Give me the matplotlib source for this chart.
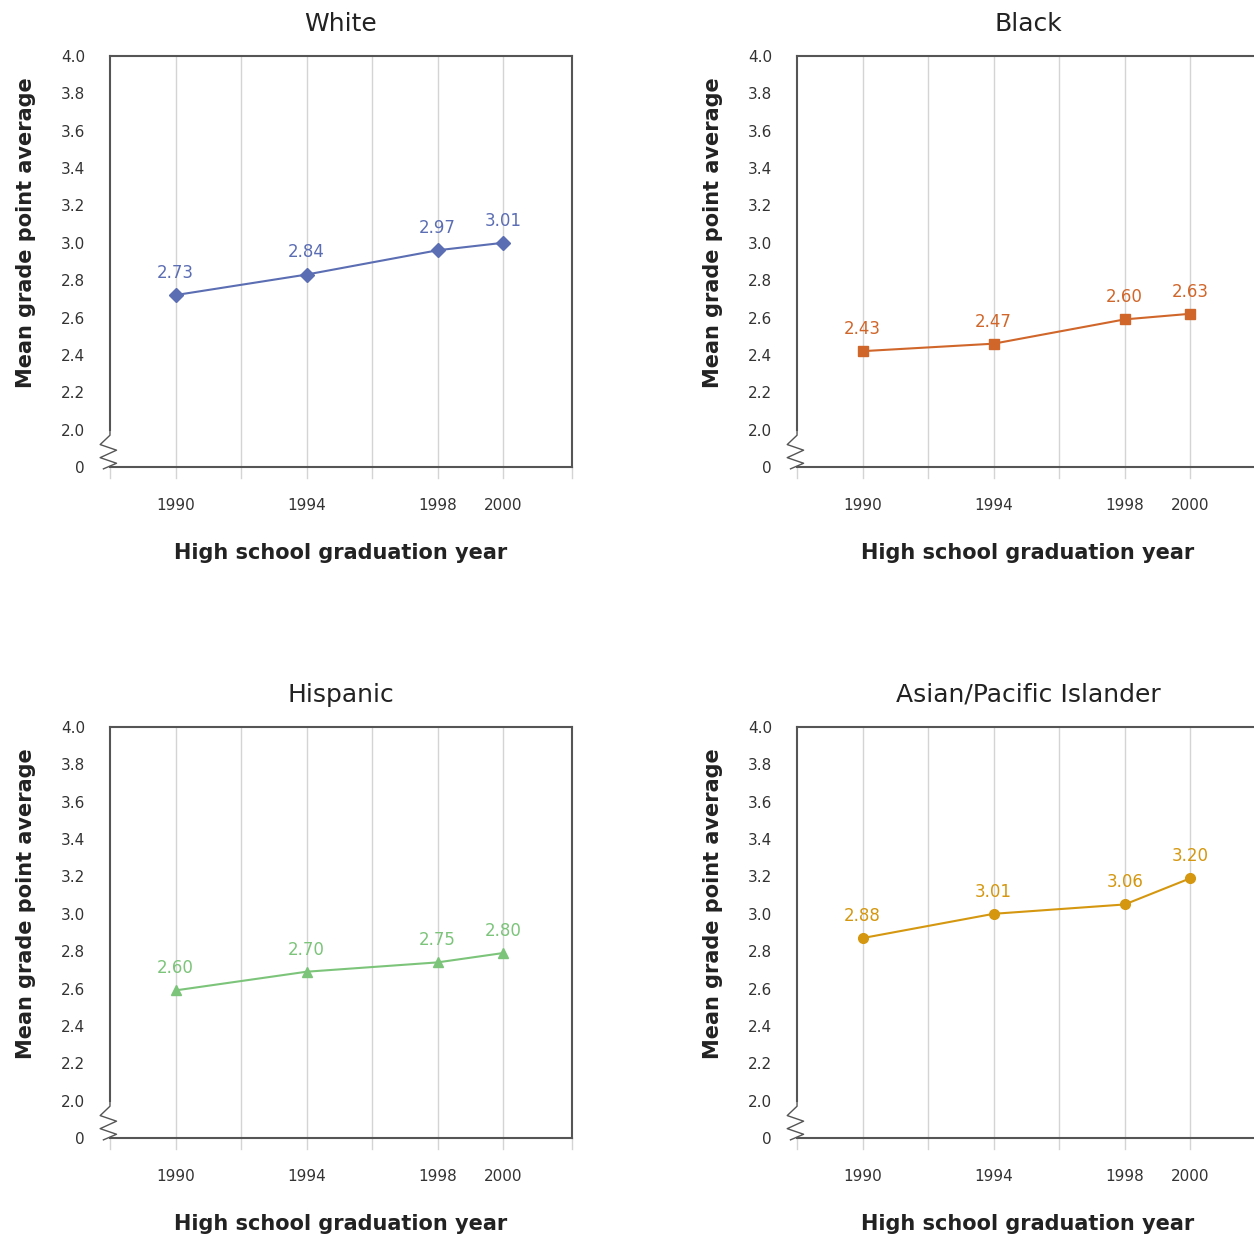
import matplotlib.pyplot as plt
import numpy as np

years = [1990, 1994, 1998, 2000]
titles = ['White', 'Black', 'Hispanic', 'Asian/Pacific Islander']
gpa_white = [2.73, 2.84, 2.97, 3.01]
gpa_black = [2.43, 2.47, 2.60, 2.63]
gpa_hispanic = [2.60, 2.70, 2.75, 2.80]
gpa_asian = [2.88, 3.01, 3.06, 3.20]
series = [gpa_white, gpa_black, gpa_hispanic, gpa_asian]
colors = ['#5b6db3', '#d0662a', '#7cc47a', '#d4970f']
markers = ['D', 's', '^', 'o']
ytick_vals = [2.0, 2.2, 2.4, 2.6, 2.8, 3.0, 3.2, 3.4, 3.6, 3.8, 4.0]

def ypos(v):
    # broken axis: 0 sits one step below 2.0
    return np.asarray(v) - 1.8

fig = plt.figure(figsize=(12.54, 12.41), dpi=100)
positions = [(0.0877, 0.6237), (0.6356, 0.6237), (0.0877, 0.0830), (0.6356, 0.0830)]
w, h = 0.3684, 0.3312
gray = '#555555'

for i in range(4):
    ax = fig.add_axes([positions[i][0], positions[i][1], w, h])
    ax.set_xlim(1988, 2002.1)
    ax.set_ylim(0, 2.2)
    for gx in range(1990, 2001, 2):
        ax.plot([gx, gx], [-0.06, 2.2], color='#d4d4d4', lw=1, clip_on=False, zorder=0)
    ax.plot([1988, 1988], [-0.06, 0], color='#d4d4d4', lw=1, clip_on=False)
    ax.plot([2002.1, 2002.1], [-0.06, 0], color='#d4d4d4', lw=1, clip_on=False)
    for s in ['top', 'right', 'bottom']:
        ax.spines[s].set_color(gray)
        ax.spines[s].set_linewidth(1.5)
    ax.spines['left'].set_visible(False)
    ax.plot([1988, 1988], [0.2, 2.2], color=gray, lw=1.5, clip_on=False)
    # zigzag break
    ax.plot([1988, 1988.0, 1987.7, 1988.2, 1987.7, 1988.2, 1987.8],
            [0.2, 0.17, 0.12, 0.09, 0.05, 0.02, -0.01],
            color=gray, lw=1, clip_on=False)
    ax.set_yticks(np.concatenate([[0], ypos(ytick_vals)]))
    ax.set_yticklabels(['0'] + ['%.1f' % v for v in ytick_vals])
    ax.tick_params(axis='y', length=0, labelsize=11, colors='#333333', pad=18)
    ax.set_xticks(years)
    ax.tick_params(axis='x', length=0, labelsize=11, colors='#333333', pad=22)
    ax.set_ylabel('Mean grade point average', fontsize=15, fontweight='bold', color='#222222')
    ax.yaxis.set_label_coords(-0.16, 0.57)
    ax.set_xlabel('High school graduation year', fontsize=15, fontweight='bold', color='#222222', labelpad=22)
    ax.set_title(titles[i], fontsize=18, color='#222222', pad=18)
    vals = series[i]
    ax.plot(years, ypos(vals) - 0.01, color=colors[i], marker=markers[i], ms=7, lw=1.5)
    for x, v in zip(years, vals):
        ax.text(x, ypos(v) + 0.06, '%.2f' % v, color=colors[i], fontsize=12,
                ha='center', va='bottom')

fig.savefig('out.png', dpi=100)
